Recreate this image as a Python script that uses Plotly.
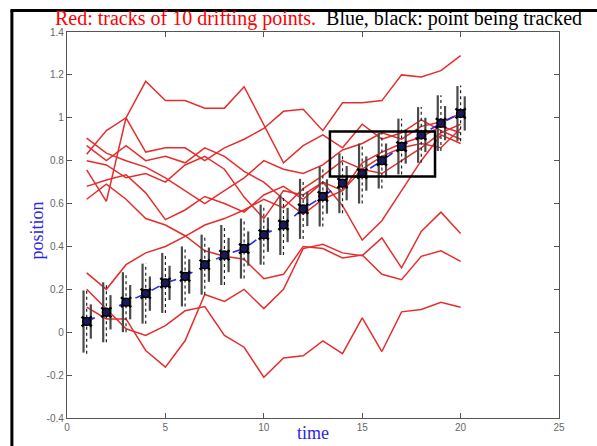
import plotly.graph_objects as go

# ---------------- data ----------------
time = list(range(1, 21))

track_1 = [0.83, 0.94, 1.00, 1.17, 1.08, 1.08, 1.045, 1.045, 1.145, 0.97, 0.79, 0.87, 0.92, 0.86, 0.97, 0.90, 0.93, 0.99, 0.94, 0.90]
track_2 = [0.757, 0.61, 1.00, 0.84, 0.86, 0.86, 0.80, 0.86, 0.90, 0.95, 1.03, 1.04, 0.94, 1.07, 1.07, 1.08, 1.20, 1.19, 1.22, 1.29]
track_3 = [0.905, 0.835, 0.80, 0.77, 0.72, 0.66, 0.60, 0.66, 0.72, 0.80, 0.76, 0.74, 0.78, 0.85, 0.88, 0.93, 0.90, 0.96, 0.98, 1.02]
track_4 = [0.80, 0.78, 0.72, 0.74, 0.70, 0.78, 0.82, 0.76, 0.63, 0.53, 0.66, 0.64, 0.70, 0.66, 0.79, 0.84, 0.88, 0.91, 0.96, 0.93]
track_5 = [0.68, 0.71, 0.734, 0.65, 0.525, 0.57, 0.633, 0.60, 0.56, 0.64, 0.68, 0.62, 0.70, 0.59, 0.43, 0.52, 0.66, 0.80, 0.92, 0.88]
track_6 = [0.62, 0.69, 0.62, 0.53, 0.50, 0.45, 0.38, 0.354, 0.34, 0.25, 0.27, 0.40, 0.39, 0.346, 0.36, 0.27, 0.245, 0.354, 0.38, 0.33]
track_7 = [0.277, 0.20, 0.315, 0.37, 0.40, 0.447, 0.50, 0.53, 0.57, 0.62, 0.58, 0.67, 0.73, 0.80, 0.76, 0.82, 0.86, 0.88, 0.86, 0.95]
track_8 = [0.20, 0.11, 0.016, -0.015, 0.031, 0.10, 0.12, -0.015, -0.07, -0.21, -0.12, -0.11, -0.04, -0.10, 0.067, -0.09, 0.095, 0.106, 0.14, 0.116]
track_9 = [0.117, 0.062, 0.062, -0.085, -0.163, -0.04, 0.176, 0.144, 0.20, 0.11, 0.20, 0.39, 0.41, 0.37, 0.357, 0.44, 0.30, 0.47, 0.56, 0.46]
track_10 = [0.87, 0.80, 0.87, 0.80, 0.82, 0.79, 0.86, 0.82, 0.75, 0.70, 0.62, 0.55, 0.62, 0.66, 0.76, 0.74, 0.80, 0.86, 0.93, 0.97]
tracks = [track_1, track_2, track_3, track_4, track_5, track_6, track_7, track_8, track_9, track_10]

tracked = [0.05, 0.093, 0.14, 0.18, 0.23, 0.26, 0.315, 0.36, 0.39, 0.455, 0.50, 0.575, 0.633, 0.695, 0.74, 0.80, 0.866, 0.92, 0.975, 1.02]
err_long = [0.145, 0.14, 0.14, 0.14, 0.14, 0.14, 0.14, 0.14, 0.14, 0.14, 0.14, 0.14, 0.14, 0.14, 0.14, 0.13, 0.13, 0.13, 0.13, 0.128]
err_dot = [0.15, 0.14, 0.14, 0.14, 0.14, 0.14, 0.14, 0.14, 0.14, 0.14, 0.14, 0.14, 0.14, 0.14, 0.14, 0.13, 0.13, 0.13, 0.13, 0.13]
err_short = [0.08, 0.08, 0.08, 0.08, 0.08, 0.08, 0.08, 0.08, 0.08, 0.08, 0.08, 0.08, 0.08, 0.08, 0.08, 0.08, 0.08, 0.08, 0.08, 0.08]

box_x = [13.36, 18.70]
box_y = [0.726, 0.936]

x_ticks = [0, 5, 10, 15, 20, 25]
y_ticks = [-0.4, -0.2, 0, 0.2, 0.4, 0.6, 0.8, 1, 1.2, 1.4]
y_tick_text = ["-0.4", "-0.2", "0", "0.2", "0.4", "0.6", "0.8", "1", "1.2", "1.4"]

SERIF = '"Liberation Serif", "Times New Roman", Times, serif'
SANS = '"Liberation Sans", Arial, Helvetica, sans-serif'

# ---------------- figure ----------------
fig = go.Figure()

for tr in tracks:
    fig.add_trace(go.Scatter(x=time, y=tr, mode="lines",
                             line=dict(color="rgb(230,45,45)", width=1.5),
                             hoverinfo="skip", showlegend=False))


def bars(offset, half):
    xs, ys = [], []
    for t, v, h in zip(time, tracked, half):
        xs += [t + offset, t + offset, None]
        ys += [v - h, v + h, None]
    return xs, ys


bx, by = bars(-0.16, err_long)
fig.add_trace(go.Scatter(x=bx, y=by, mode="lines", line=dict(color="#4a4a4a", width=2.2),
                         hoverinfo="skip", showlegend=False))
bx, by = bars(0.0, err_dot)
fig.add_trace(go.Scatter(x=bx, y=by, mode="lines", line=dict(color="#222222", width=1.2, dash="dot"),
                         hoverinfo="skip", showlegend=False))
bx, by = bars(0.21, err_short)
fig.add_trace(go.Scatter(x=bx, y=by, mode="lines", line=dict(color="#4a4a4a", width=2.2),
                         hoverinfo="skip", showlegend=False))

fig.add_trace(go.Scatter(x=time, y=tracked, mode="lines",
                         line=dict(color="rgb(40,40,230)", width=1.6, dash="dash"),
                         hoverinfo="skip", showlegend=False))
fig.add_trace(go.Scatter(x=time, y=tracked, mode="markers",
                         marker=dict(symbol="x-thin-open", size=10, color="black",
                                     line=dict(color="black", width=2.5)),
                         hoverinfo="skip", showlegend=False))
fig.add_trace(go.Scatter(x=time, y=tracked, mode="markers",
                         marker=dict(symbol="circle", size=8, color="rgb(25,25,90)",
                                     line=dict(color="black", width=1.5)),
                         hoverinfo="skip", showlegend=False))

fig.add_shape(type="rect", xref="x", yref="y", x0=box_x[0], x1=box_x[1], y0=box_y[0], y1=box_y[1],
              line=dict(color="black", width=2.5))

# outer frame (left and top)
fig.add_shape(type="line", xref="paper", yref="paper", x0=-0.112, x1=-0.112, y0=-0.1, y1=1.056,
              line=dict(color="black", width=3))
fig.add_shape(type="line", xref="paper", yref="paper", x0=-0.115, x1=1.1, y0=1.056, y1=1.056,
              line=dict(color="black", width=3))

axis_common = dict(showline=True, linecolor="#555555", linewidth=1.3, mirror="ticks",
                   ticks="inside", ticklen=5, tickcolor="#555555", tickwidth=1.3,
                   showgrid=False, zeroline=False,
                   tickfont=dict(family=SANS, size=10, color="#666666"))

fig.update_xaxes(range=[0, 25], tickvals=x_ticks, ticktext=[str(v) for v in x_ticks], **axis_common)
fig.update_yaxes(range=[-0.4, 1.4], tickvals=y_ticks, ticktext=y_tick_text, **axis_common)

fig.add_annotation(xref="paper", yref="paper", x=0.511, y=1.036, showarrow=False,
                   xanchor="center", yanchor="middle",
                   text="<span style='color:red'>Red: tracks of 10 drifting points.</span>  Blue, black: point being tracked",
                   font=dict(family=SERIF, size=20, color="black"))
fig.add_annotation(xref="paper", yref="paper", x=-0.06, y=0.487, showarrow=False,
                   xanchor="center", yanchor="middle", textangle=-90,
                   text="position",
                   font=dict(family=SERIF, size=18, color="rgb(40,40,230)"))
fig.add_annotation(xref="paper", yref="paper", x=0.499, y=-0.038, showarrow=False,
                   xanchor="center", yanchor="middle",
                   text="time",
                   font=dict(family=SERIF, size=18, color="rgb(40,40,230)"))

fig.update_layout(width=597, height=446,
                  margin=dict(l=67, r=38, t=32, b=28),
                  paper_bgcolor="white", plot_bgcolor="white",
                  font=dict(family=SANS),
                  showlegend=False)

fig.write_html("out.html", include_plotlyjs=True, config={"displayModeBar": False})
